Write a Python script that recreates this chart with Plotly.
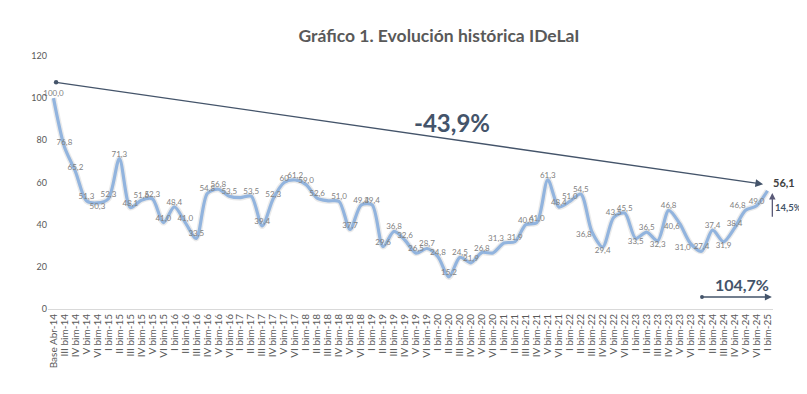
import plotly.graph_objects as go

categories = [
    "Base Abr-14", "III bim-14", "IV bim-14", "V bim-14", "VI bim-14",
    "I bim-15", "II bim-15", "III bim-15", "IV bim-15", "V bim-15", "VI bim-15",
    "I bim-16", "II bim-16", "III bim-16", "IV bim-16", "V bim-16", "VI bim-16",
    "I bim-17", "II bim-17", "III bim-17", "IV bim-17", "V bim-17", "VI bim-17",
    "I bim-18", "II bim-18", "III bim-18", "IV bim-18", "V bim-18", "VI bim-18",
    "I bim-19", "II bim-19", "III bim-19", "IV bim-19", "V bim-19", "VI bim-19",
    "I bim-20", "II bim-20", "III bim-20", "IV bim-20", "V bim-20", "VI bim-20",
    "I bim-21", "II bim-21", "III bim-21", "IV bim-21", "V bim-21", "VI bim-21",
    "I bim-22", "II bim-22", "III bim-22", "IV bim-22", "V bim-22", "VI bim-22",
    "I bim-23", "II bim-23", "III bim-23", "IV bim-23", "V bim-23", "VI bim-23",
    "I bim-24", "II bim-24", "III bim-24", "IV bim-24", "V bim-24", "VI bim-24",
    "I bim-25",
]

idelai = [
    100.0, 76.8, 65.2, 51.3, 50.3, 52.3, 71.3, 48.1, 51.6, 52.3,
    41.0, 48.4, 41.0, 33.5, 54.8, 56.8, 53.5, 52.8, 53.5, 39.4,
    52.3, 60.0, 61.2, 59.0, 52.6, 51.3, 51.0, 37.7, 49.3, 49.4,
    29.6, 36.8, 32.6, 26.5, 28.7, 24.8, 15.2, 24.5, 21.9, 26.8,
    26.6, 31.3, 31.9, 40.0, 41.0, 61.3, 48.4, 51.0, 54.5, 36.8,
    29.4, 43.5, 45.5, 33.5, 36.5, 32.3, 46.8, 40.6, 31.0, 27.4,
    37.4, 31.9, 38.4, 46.8, 49.0, 56.1,
]

# points whose value label is not shown in the original chart
hidden_labels = [17, 25, 40, 65]
# labels displayed as integers
integer_labels = [21]

y_ticks = [0, 20, 40, 60, 80, 100, 120]

change_total = "-43,9%"
change_last = "14,5%"
change_from_min = "104,7%"
last_value_label = "56,1"
title_text = "Gráfico 1. Evolución histórica IDeLaI"


def fmt(v, i):
    if i in hidden_labels:
        return ""
    if i in integer_labels:
        return f"{v:.0f}"
    return f"{v:.1f}".replace(".", ",")


labels = [fmt(v, i) for i, v in enumerate(idelai)]

label_pos = {4: "bottom center", 41: "top left", 49: "bottom left",
             50: "bottom center", 53: "bottom center", 55: "bottom center",
             57: "bottom left", 58: "bottom left", 61: "bottom center",
             63: "top left"}
positions = [label_pos.get(i, "top center") for i in range(len(idelai))]

x_idx = list(range(len(categories)))

fig = go.Figure()
# soft shadow under the line
fig.add_trace(go.Scatter(
    x=x_idx, y=idelai, mode="lines",
    line=dict(color="rgba(90,90,90,0.13)", width=6, shape="spline", smoothing=0.8),
    hoverinfo="skip", showlegend=False,
))
fig.add_trace(go.Scatter(
    x=x_idx, y=idelai, mode="lines+text",
    line=dict(color="#92B4DE", width=3.2, shape="spline", smoothing=0.8),
    text=labels, textposition=positions,
    textfont=dict(family="Lato", size=8, color="#7F7F7F"),
    cliponaxis=False, showlegend=False,
))

navy = "#44546A"
ann = [
    # long trend arrow from the base to the last value
    dict(x=64.6, y=59.2, ax=0.1, ay=107.6, xref="x", yref="y", axref="x", ayref="y",
         showarrow=True, arrowhead=2, arrowsize=1.1, arrowwidth=1.4, arrowcolor=navy,
         arrowside="end+start", startarrowhead=6, startarrowsize=0.8, text=""),
    dict(x=0.557, y=88.6, xref="paper", yref="y", xanchor="center",
         text=f"<b>{change_total}</b>",
         showarrow=False, font=dict(family="Lato", size=24, color=navy)),
    dict(x=1.015, y=59.8, xref="paper", yref="y", xanchor="center",
         text=f"<b>{last_value_label}</b>",
         showarrow=False, font=dict(family="Lato", size=11, color="#404040")),
    # small vertical arrow
    dict(x=65.44, y=55.0, ax=65.44, ay=43.1, xref="x", yref="y",
         axref="x", ayref="y", showarrow=True, arrowhead=2, arrowsize=1,
         arrowwidth=1.3, arrowcolor="#5A5A78", text=""),
    dict(x=1.022, y=48.3, xref="paper", yref="y", xanchor="center",
         text=f"<b>{change_last}</b>",
         showarrow=False, font=dict(family="Lato", size=9.5, color=navy)),
    # horizontal arrow at the bottom right
    dict(x=65.4, y=5.7, ax=58.9, ay=5.7, xref="x", yref="y", axref="x", ayref="y",
         showarrow=True, arrowhead=2, arrowsize=1, arrowwidth=1.4, arrowcolor=navy,
         arrowside="end+start", startarrowhead=6, startarrowsize=0.7, text=""),
    dict(x=0.957, y=11.6, xref="paper", yref="y", xanchor="center",
         text=f"<b>{change_from_min}</b>",
         showarrow=False, font=dict(family="Lato", size=16, color=navy)),
]

# the page body adds an 8px offset, so the figure is sized to fit the window
fig.update_layout(
    width=799, height=386,
    margin=dict(l=40, r=34, t=48, b=85),
    paper_bgcolor="white", plot_bgcolor="white",
    title=dict(text=f"<b>{title_text}</b>", x=0.5394, xanchor="center",
               y=0.9275, yanchor="middle",
               font=dict(family="Lato", size=17.5, color="#595959")),
    annotations=ann,
    xaxis=dict(
        tickmode="array", tickvals=x_idx, ticktext=categories,
        tickangle=-90, range=[-0.5, len(categories) - 0.5], automargin=False,
        showgrid=False, zeroline=False, showline=True, linecolor="#D9D9D9",
        linewidth=1, ticks="", tickfont=dict(family="Lato", size=10, color="#595959"),
    ),
    yaxis=dict(
        range=[0, 120], tickvals=y_ticks, showgrid=False, zeroline=False,
        automargin=False,
        showline=False, ticks="", tickfont=dict(family="Lato", size=9, color="#595959"),
    ),
)

fig.write_html("out.html")
